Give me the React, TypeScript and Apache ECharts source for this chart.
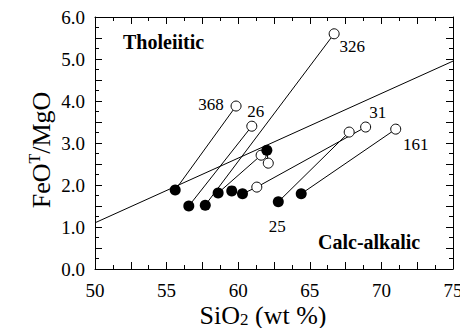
import React, { useEffect, useRef } from "react";
import * as echarts from "echarts";

// Boundary line (Miyashiro) endpoints
const boundarySiO2 = [50, 75];
const boundaryFeMg = [1.1, 4.95];

// Least-differentiated samples (filled)
const filledSiO2 = [55.6, 56.55, 57.7, 58.6, 59.55, 60.3, 62.8, 64.4, 62.0];
const filledFeMg = [1.88, 1.5, 1.52, 1.81, 1.86, 1.79, 1.6, 1.79, 2.83];

// Most-differentiated samples (open)
const openSiO2 = [59.85, 60.95, 66.7, 61.6, 61.3, 68.9, 67.75, 71.0, 62.1];
const openFeMg = [3.88, 3.4, 5.6, 2.71, 1.95, 3.38, 3.26, 3.33, 2.52];

// Tie lines: sequences of point references (f = filled, o = open)
const tieLines = [
  ["f0", "o0"],
  ["f1", "o1"],
  ["f2", "o2"],
  ["f3", "o3"],
  ["f5", "o4", "o5"],
  ["f6", "o6"],
  ["f7", "o7"],
  ["f8", "o8"],
];

// Sample number labels
const sampleLabels = [
  { ref: "o0", text: "368" },
  { ref: "o1", text: "26" },
  { ref: "o2", text: "326" },
  { ref: "o5", text: "31" },
  { ref: "o7", text: "161" },
  { ref: "f6", text: "25" },
];
const labelOffsets: Record<string, [number, number]> = {
  "368": [-25, -2],
  "26": [4, -15],
  "326": [18, 13],
  "31": [12, -15],
  "161": [20, 15],
  "25": [-1, 25],
};

const xTickLabels = [50, 55, 60, 65, 70, 75];
const yTickLabels = [0, 1, 2, 3, 4, 5, 6];

const FONT = "Liberation Serif";

function pt(ref: string): [number, number] {
  const i = parseInt(ref.slice(1), 10);
  return ref[0] === "f" ? [filledSiO2[i], filledFeMg[i]] : [openSiO2[i], openFeMg[i]];
}

export default function App() {
  const ref = useRef<HTMLDivElement>(null);
  useEffect(() => {
    if (!ref.current) return;
    const chart = echarts.init(ref.current, undefined, { renderer: "svg" });

    const labelFor = (r: string) => {
      const l = sampleLabels.find((s) => s.ref === r);
      if (!l) return undefined;
      return {
        show: true,
        formatter: l.text,
        position: "inside",
        offset: labelOffsets[l.text],
        fontFamily: FONT,
        fontSize: 17,
        color: "#000",
      };
    };

    const axisCommon = {
      axisLine: { show: true, onZero: false, lineStyle: { color: "#000", width: 1 } },
      splitLine: { show: false },
    };

    const xBase = {
      type: "value" as const,
      min: 50,
      max: 75,
      interval: 2.5,
      ...axisCommon,
      axisTick: { show: true, inside: true, length: 7, lineStyle: { color: "#000" } },
      minorTick: { show: true, splitNumber: 2, length: 4, lineStyle: { color: "#000" } },
    };
    const yBase = {
      type: "value" as const,
      min: 0,
      max: 6,
      interval: 0.5,
      ...axisCommon,
      axisTick: { show: true, inside: true, length: 7, lineStyle: { color: "#000" } },
      minorTick: { show: true, splitNumber: 2, length: 4, lineStyle: { color: "#000" } },
    };

    const series: any[] = [];
    series.push({
      type: "line",
      data: boundarySiO2.map((x, i) => [x, boundaryFeMg[i]]),
      symbol: "none",
      lineStyle: { color: "#000", width: 1 },
      silent: true,
      z: 1,
    });
    tieLines.forEach((seq) => {
      series.push({
        type: "line",
        data: seq.map(pt),
        symbol: "none",
        lineStyle: { color: "#000", width: 1 },
        silent: true,
        z: 2,
      });
    });
    series.push({
      type: "scatter",
      symbol: "circle",
      symbolSize: 10,
      itemStyle: { color: "#fff", borderColor: "#000", borderWidth: 1, opacity: 1 },
      data: openSiO2.map((x, i) => {
        const lab = labelFor("o" + i);
        return lab ? { value: [x, openFeMg[i]], label: lab } : { value: [x, openFeMg[i]] };
      }),
      z: 3,
    });
    series.push({
      type: "scatter",
      symbol: "circle",
      symbolSize: 11,
      itemStyle: { color: "#000", borderColor: "#000", borderWidth: 0, opacity: 1 },
      data: filledSiO2.map((x, i) => {
        const lab = labelFor("f" + i);
        return lab ? { value: [x, filledFeMg[i]], label: lab } : { value: [x, filledFeMg[i]] };
      }),
      z: 4,
    });

    chart.setOption({
      animation: false,
      backgroundColor: "#fff",
      textStyle: { fontFamily: FONT },
      grid: { left: 95, right: 15, top: 17, bottom: 67, containLabel: false },
      xAxis: [
        {
          ...xBase,
          position: "bottom",
          axisLabel: {
            show: true,
            margin: 12,
            fontFamily: FONT,
            fontSize: 19,
            lineHeight: 19,
            color: "#000",
            formatter: (v: number) => (xTickLabels.includes(v) ? String(v) : ""),
          },
        },
        { ...xBase, position: "top", axisLabel: { show: false } },
      ],
      yAxis: [
        {
          ...yBase,
          position: "left",
          axisLabel: {
            show: true,
            margin: 10,
            fontFamily: FONT,
            fontSize: 19,
            color: "#000",
            formatter: (v: number) => (yTickLabels.includes(v) ? v.toFixed(1) : ""),
          },
        },
        { ...yBase, position: "right", axisLabel: { show: false } },
      ],
      series,
      graphic: [
        {
          type: "text",
          left: 123,
          top: 32,
          style: { text: "Tholeiitic", fontFamily: FONT, fontWeight: "bold", fontSize: 20, fill: "#000" },
        },
        {
          type: "text",
          left: 318,
          top: 232,
          style: { text: "Calc-alkalic", fontFamily: FONT, fontWeight: "bold", fontSize: 20, fill: "#000" },
        },
        {
          type: "text",
          x: 263,
          y: 315,
          style: {
            text: "{a|SiO}{s|2}{a| (wt %)}",
            align: "center",
            verticalAlign: "middle",
            rich: {
              a: { fontFamily: FONT, fontSize: 26, lineHeight: 26, verticalAlign: "middle", fill: "#000" },
              s: { fontFamily: FONT, fontSize: 17, lineHeight: 8, verticalAlign: "bottom", fill: "#000" },
            },
          },
        },
        {
          type: "text",
          x: 41,
          y: 150,
          rotation: Math.PI / 2,
          style: {
            text: "{a|FeO}{s|T}{a|/MgO}",
            align: "center",
            verticalAlign: "middle",
            rich: {
              a: { fontFamily: FONT, fontSize: 26, lineHeight: 30, verticalAlign: "middle", fill: "#000" },
              s: { fontFamily: FONT, fontSize: 16, lineHeight: 10, verticalAlign: "top", fill: "#000" },
            },
          },
        },
      ],
    });
    return () => chart.dispose();
  }, []);
  return (
    <>
      <style>{`.chart-root svg text { font-family: 'Liberation Serif', serif !important; }`}</style>
      <div className="chart-root" ref={ref} style={{ width: 468, height: 336, margin: -8 }} />
    </>
  );
}
